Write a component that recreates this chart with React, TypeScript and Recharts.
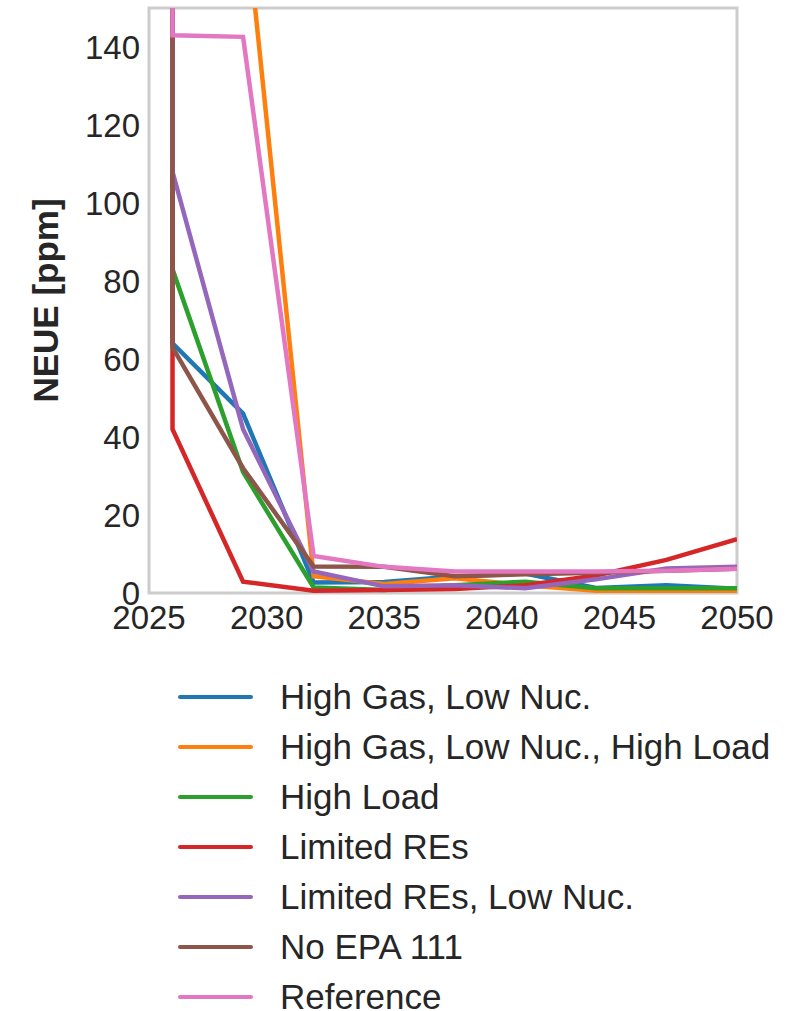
import React from "react";
import { LineChart, Line, XAxis, YAxis, ReferenceArea } from "recharts";

// x positions (first point is the off-scale start value at 2026)
const years = [2026, 2026, 2029, 2032, 2035, 2038, 2041, 2044, 2047, 2050];

const seriesNames = [
  "High Gas, Low Nuc.",
  "High Gas, Low Nuc., High Load",
  "High Load",
  "Limited REs",
  "Limited REs, Low Nuc.",
  "No EPA 111",
  "Reference",
];

const seriesColors = ["#1f77b4", "#ff7f0e", "#2ca02c", "#d62728", "#9467bd", "#8c564b", "#e377c2"];

const highGasLowNuc = [300, 64, 46, 2.7, 2.8, 4.2, 5.0, 1.3, 2.0, 1.1];
const highGasLowNucHighLoad = [400, 350, 180, 4.3, 2.3, 3.8, 2.0, 0.6, 0.5, 0.5];
const highLoad = [300, 83, 31, 1.4, 0.8, 2.0, 2.9, 1.2, 1.2, 1.2];
const limitedREs = [300, 42, 2.9, 0.6, 0.8, 1.0, 2.0, 4.5, 8.5, 13.8];
const limitedREsLowNuc = [300, 108, 42, 5.5, 1.7, 2.0, 1.2, 3.5, 6.3, 6.7];
const noEPA111 = [300, 63, 32, 6.8, 6.7, 4.3, 4.8, 5.2, 5.7, 6.2];
const reference = [300, 143, 142.6, 9.5, 6.7, 5.5, 5.5, 5.5, 5.7, 6.2];

const seriesValues = [
  highGasLowNuc,
  highGasLowNucHighLoad,
  highLoad,
  limitedREs,
  limitedREsLowNuc,
  noEPA111,
  reference,
];

const xTicks = [2025, 2030, 2035, 2040, 2045, 2050];
const yTicks = [0, 20, 40, 60, 80, 100, 120, 140];

const data = years.map((year, i) => {
  const row: Record<string, number> = { year };
  seriesValues.forEach((vals, s) => {
    row["s" + s] = vals[i];
  });
  return row;
});

const FONT = "'Liberation Sans', Arial, Helvetica, sans-serif";
const TEXT = "#262626";

const YLabel = (props: any) => {
  const vb = props.viewBox || { x: 0, y: 8, width: 149, height: 585 };
  const cx = 58;
  const cy = vb.y + vb.height / 2;
  return (
    <text
      x={cx}
      y={cy}
      transform={`rotate(-90, ${cx}, ${cy})`}
      textAnchor="middle"
      fontFamily={FONT}
      fontWeight="bold"
      fontSize={35}
      fill={TEXT}
    >
      NEUE [ppm]
    </text>
  );
};

export default function App() {
  return (
    <div
      style={{
        position: "absolute",
        left: 0,
        top: 0,
        width: 796,
        height: 1011,
        background: "#ffffff",
        fontFamily: FONT,
      }}
    >
      <LineChart
        width={796}
        height={640}
        data={data}
        margin={{ top: 8, right: 59, left: 0, bottom: 0 }}
      >
        <XAxis
          dataKey="year"
          type="number"
          domain={[2025, 2050]}
          ticks={xTicks}
          allowDataOverflow
          axisLine={false}
          tickLine={false}
          tickSize={0}
          tickMargin={13}
          height={47}
          tick={{ fontSize: 33, fill: TEXT, fontFamily: FONT }}
        />
        <YAxis
          type="number"
          domain={[0, 150]}
          ticks={yTicks}
          allowDataOverflow
          axisLine={false}
          tickLine={false}
          tickSize={0}
          tickMargin={9}
          width={149}
          tick={{ fontSize: 33, fill: TEXT, fontFamily: FONT }}
          label={{ content: (p: any) => <YLabel {...p} /> }}
        />
        <ReferenceArea
          x1={2025}
          x2={2050}
          y1={0}
          y2={150}
          fill="none"
          fillOpacity={0}
          stroke="#cccccc"
          strokeWidth={3}
          strokeOpacity={1}
          ifOverflow="visible"
        />
        {seriesNames.map((name, s) => (
          <Line
            key={name}
            name={name}
            dataKey={"s" + s}
            stroke={seriesColors[s]}
            strokeWidth={4.5}
            dot={false}
            activeDot={false}
            type="linear"
            isAnimationActive={false}
          />
        ))}
      </LineChart>
      <div style={{ position: "absolute", left: 178, top: 672 }}>
        {seriesNames.map((name, s) => (
          <div
            key={name}
            style={{ display: "flex", alignItems: "center", height: 50 }}
          >
            <div
              style={{
                width: 75,
                height: 4.5,
                borderRadius: 2,
                background: seriesColors[s],
                marginRight: 27,
              }}
            />
            <span style={{ fontSize: 35, color: TEXT, whiteSpace: "nowrap", lineHeight: "26px" }}>
              {name}
            </span>
          </div>
        ))}
      </div>
    </div>
  );
}
